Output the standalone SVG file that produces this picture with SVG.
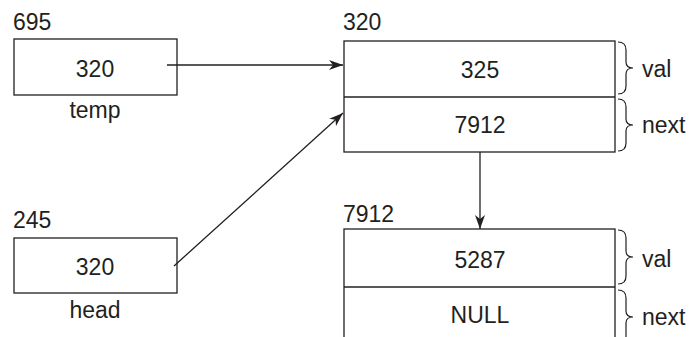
<svg xmlns="http://www.w3.org/2000/svg" width="697" height="337" viewBox="0 0 697 337">
<defs>
<style>
text{font-family:"Liberation Sans",Arial,sans-serif;font-size:23px;fill:#231f20}
.c{text-anchor:middle}
.box{fill:#fff;stroke:#231f20;stroke-width:1.3}
.ln{fill:none;stroke:#231f20;stroke-width:1.3}
.br{fill:none;stroke:#231f20;stroke-width:1.2}
</style>
<marker id="ah" viewBox="0 0 14 10" refX="14" refY="5" markerWidth="14" markerHeight="10" markerUnits="userSpaceOnUse" orient="auto">
<path d="M0,0 L14,5 L0,10 L4,5 Z" fill="#231f20"/>
</marker>
</defs>
<rect width="697" height="337" fill="#fff"/>
<g id="temp">
<text x="13" y="30">695</text>
<rect class="box" x="14" y="39" width="163" height="56"/>
<text class="c" x="95" y="77">320</text>
<text class="c" x="95" y="118">temp</text>
</g>
<g id="head">
<text x="13" y="228">245</text>
<rect class="box" x="14" y="238" width="163" height="55"/>
<text class="c" x="95" y="275">320</text>
<text class="c" x="95" y="318">head</text>
</g>
<g id="node320">
<text x="343" y="30">320</text>
<rect class="box" x="344" y="41" width="271" height="111"/>
<line class="ln" x1="344" y1="97" x2="615" y2="97"/>
<text class="c" x="480" y="78">325</text>
<text class="c" x="480" y="133">7912</text>
<path class="br" d="M618,42 Q626,42 626,50 L626,62 Q626,68 633,68 Q626,68 626,74 L626,86 Q626,94 618,94"/>
<path class="br" d="M618,99 Q626,99 626,107 L626,119 Q626,125 633,125 Q626,125 626,131 L626,143 Q626,151 618,151"/>
<text x="642" y="77">val</text>
<text x="642" y="133">next</text>
</g>
<g id="node7912">
<text x="343" y="222">7912</text>
<rect class="box" x="344" y="229" width="271" height="115"/>
<line class="ln" x1="344" y1="287" x2="615" y2="287"/>
<text class="c" x="480" y="268">5287</text>
<text class="c" x="480" y="323">NULL</text>
<path class="br" d="M618,230 Q626,230 626,238 L626,251 Q626,257 633,257 Q626,257 626,263 L626,276 Q626,284 618,284"/>
<path class="br" d="M618,290 Q626,290 626,298 L626,311 Q626,317 633,317 Q626,317 626,323 L626,336 Q626,344 618,344"/>
<text x="642" y="267">val</text>
<text x="642" y="325">next</text>
</g>
<g id="connectors">
<line class="ln" x1="167" y1="65" x2="343" y2="65" marker-end="url(#ah)"/>
<line class="ln" x1="174" y1="266" x2="343" y2="113" marker-end="url(#ah)"/>
<line class="ln" x1="480" y1="152" x2="480" y2="229" marker-end="url(#ah)"/>
</g>
</svg>
